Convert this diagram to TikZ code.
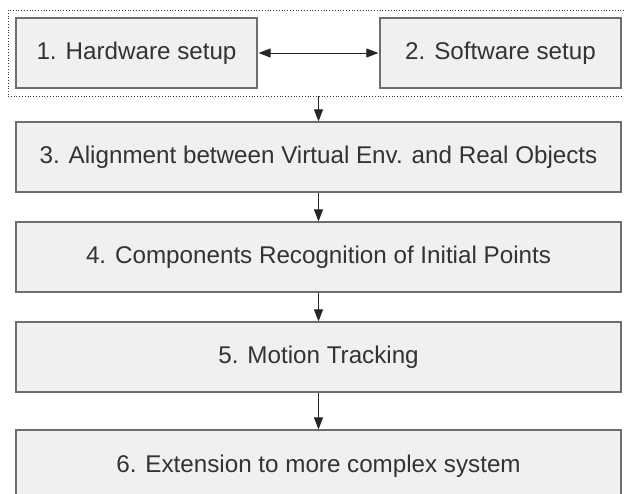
\documentclass[tikz,border=0pt]{standalone}
\usepackage{fontspec}
\setmainfont{Liberation Sans}
\usetikzlibrary{arrows.meta}
\definecolor{boxfill}{HTML}{F0F0F0}
\definecolor{boxline}{HTML}{6E6E6E}
\definecolor{txt}{HTML}{333333}
\begin{document}
\begin{tikzpicture}[x=1pt,y=-1pt,
  stepbox/.style={draw=boxline,line width=1.2pt,fill=boxfill,inner sep=0pt,
    font=\fontsize{24.2}{29}\selectfont,text=txt},
  conn/.style={draw=black!85,line width=0.9pt,-{Triangle[length=12pt,width=9pt]}},
  conn2/.style={draw=black!85,line width=0.9pt,{Triangle[length=12pt,width=9pt]}-{Triangle[length=12pt,width=9pt]}}]
\useasboundingbox (0,0) rectangle (624,494);
\clip (0,0) rectangle (624,494);
\fill[white] (0,0) rectangle (624,494);
\node[draw=black!80,dotted,line width=0.8pt,minimum width=622pt,minimum height=86pt,inner sep=0pt] (grp) at (319,53) {};
\node[stepbox,minimum width=241pt,minimum height=70pt] (n1) at (136.5,53) {1. Hardware setup};
\node[stepbox,minimum width=241pt,minimum height=70pt] (n2) at (500.5,53) {2. Software setup};
\node[stepbox,minimum width=605pt,minimum height=70pt] (n3) at (318.5,157) {3. Alignment between Virtual Env. and Real Objects};
\node[stepbox,minimum width=605pt,minimum height=70pt] (n4) at (318.5,257) {4. Components Recognition of Initial Points};
\node[stepbox,minimum width=605pt,minimum height=70pt] (n5) at (318.5,357) {5. Motion Tracking};
\node[stepbox,minimum width=605pt,minimum height=72pt] (n6) at (318.5,466) {6. Extension to more complex system};
\draw[conn2] (n1.east) ++(1,0) -- ([xshift=-1pt]n2.west);
\draw[conn] (grp.south -| n3.north) -- (n3.north);
\draw[conn] (n3) -- (n4);
\draw[conn] (n4) -- (n5);
\draw[conn] (n5) -- (n6);
\end{tikzpicture}
\end{document}
